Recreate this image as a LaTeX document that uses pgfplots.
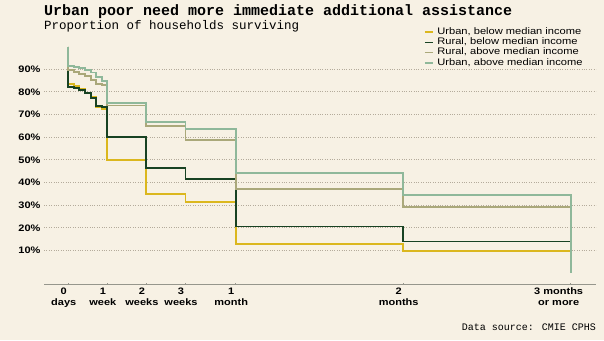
\documentclass[border=0pt]{standalone}
\usepackage{fontspec}
\setmainfont{Liberation Sans}[FakeStretch=1.17]
\newfontfamily\cmono{Liberation Mono}
\usepackage{pgfplots}
\pgfplotsset{compat=1.18}
\definecolor{bg}{RGB}{247,241,228}
\definecolor{cyel}{RGB}{219,183,30}
\definecolor{cdkg}{RGB}{24,66,34}
\definecolor{ckha}{RGB}{170,168,122}
\definecolor{cltg}{RGB}{143,184,154}
\definecolor{cgrid}{RGB}{180,171,155}
\definecolor{caxis}{RGB}{150,150,140}
\begin{document}
\begin{tikzpicture}
\useasboundingbox (0pt,0pt) rectangle (604pt,340pt);
\fill[bg] (0pt,0pt) rectangle (604pt,340pt);
\node[anchor=base west, inner sep=0pt] at (44pt,324pt) {\cmono\bfseries\fontsize{15}{18}\selectfont Urban poor need more immediate additional assistance};
\node[anchor=base west, inner sep=0pt] at (44pt,310.5pt) {\cmono\fontsize{12.5}{15}\selectfont Proportion of households surviving};
\node[anchor=base east, inner sep=0pt] at (596pt,10pt) {\cmono\fontsize{10}{12}\selectfont Data source: CMIE CPHS};
\begin{axis}[
  at={(44pt,55.5pt)}, anchor=south west,
  scale only axis, width=552pt, height=242.4pt,
  xmin=-4.35, xmax=94.54, ymin=-5, ymax=102,
  axis x line*=bottom, axis y line*=left,
  y axis line style={draw=none},
  x axis line style={draw=caxis, line width=1.2pt, -},
  ytick={10,20,30,40,50,60,70,80,90},
  yticklabels={10\%,20\%,30\%,40\%,50\%,60\%,70\%,80\%,90\%},
  ymajorgrids,
  grid style={cgrid, line width=0.9pt, dash pattern=on 1pt off 1.4pt},
  ytick style={draw=none},
  xtick={0,7,14,21,30,60},
  xticklabels={{0\\days},{1\\week},{2\\weeks},{3\\weeks},{1\\month},{2\\months}},
  extra x ticks={90},
  extra x tick labels={{3 months\\or more}},
  extra x tick style={xticklabel style={xshift=-7.5pt}},
  xticklabel style={font=\bfseries\fontsize{9.4}{10.5}\selectfont, align=center, xshift=-4.5pt},
  yticklabel style={font=\bfseries\fontsize{9.4}{11}\selectfont},
  major tick length=2pt, xtick style={draw=caxis, line width=0.8pt}, tick align=inside,
  /pgf/number format/assume math mode=true,
  legend style={at={(0.688,1.062)}, anchor=north west, draw=none, fill=none,
    font=\fontsize{9.5}{10}\selectfont, inner sep=0pt, column sep=3pt, row sep=0pt,
    nodes={inner sep=0.6pt, text height=6.9pt, text depth=2pt}},
  legend image code/.code={\draw[#1, line width=1.8pt] (0pt,0pt) -- (8pt,0pt);},
  legend cell align=left,
  every axis plot/.append style={line width=1.9pt, const plot, line join=miter},
]
\addplot[cyel] coordinates {(0,100) (0,83.4) (1,82.6) (2,81.2) (3,79.7) (4,77.9) (5,73.5) (6,72.3) (7,50.0) (14,34.9) (21,31.4) (30,13.0) (60,9.9) (90,0)};
\addlegendentry{Urban, below median income}
\addplot[cdkg] coordinates {(0,100) (0,82.3) (1,81.9) (2,80.9) (3,79.4) (4,77.5) (5,73.8) (6,73.2) (7,60.3) (14,46.6) (21,41.6) (30,20.6) (60,14.0) (90,0)};
\addlegendentry{Rural, below median income}
\addplot[ckha] coordinates {(0,100) (0,89.7) (1,88.8) (2,87.9) (3,87.0) (4,85.3) (5,83.5) (6,82.9) (7,74.0) (14,64.8) (21,58.9) (30,37.2) (60,29.3) (90,0)};
\addlegendentry{Rural, above median income}
\addplot[cltg] coordinates {(0,100) (0,91.6) (1,91.2) (2,90.6) (3,89.7) (4,88.6) (5,86.4) (6,84.7) (7,75.3) (14,66.9) (21,63.6) (30,44.1) (60,34.6) (90,0)};
\addlegendentry{Urban, above median income}
\end{axis}
\end{tikzpicture}
\end{document}
